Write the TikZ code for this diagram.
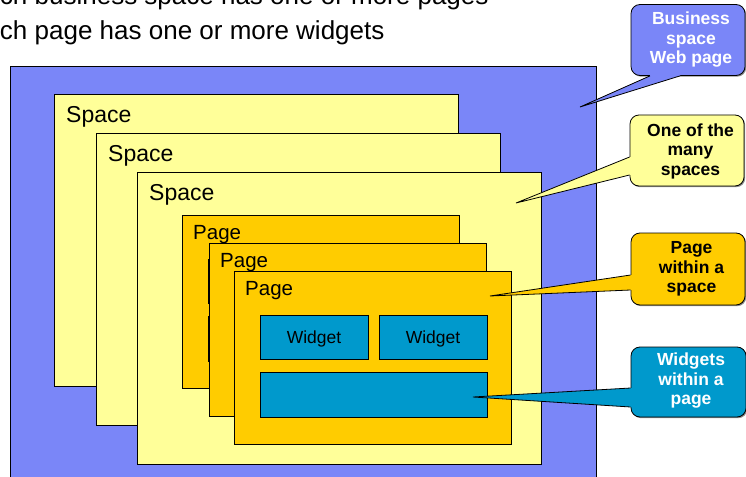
\documentclass[tikz,border=0pt]{standalone}
\usepackage{fontspec}
\setmainfont{Liberation Sans}
\usepackage{xcolor}
\usepackage{tikz}
\usetikzlibrary{calc}
\usetikzlibrary{shadows}
\definecolor{bizblue}{RGB}{122,134,248}
\definecolor{spaceyel}{RGB}{255,255,153}
\definecolor{pagegold}{RGB}{255,204,0}
\definecolor{widgetcol}{RGB}{0,153,204}
\tikzset{
  flatshadow/.style={drop shadow={shadow xshift=1.2pt,shadow yshift=-1.2pt,fill=black,opacity=0.45}},
  box/.style={draw=black,line width=0.8pt,anchor=north west,inner sep=0pt,outer sep=0pt,flatshadow},
  spacebox/.style={box,fill=spaceyel,minimum width=404pt,minimum height=292pt},
  pagebox/.style={box,fill=pagegold,minimum width=277pt,minimum height=173pt},
  widgetbox/.style={box,fill=widgetcol,minimum height=44pt,text depth=0pt,font=\fontsize{17.5}{20}\selectfont},
  boxlabel/.style={anchor=base west,inner sep=0pt},
  callbox/.style={draw=black,line width=0.8pt,rounded corners=9pt,inner sep=0pt,minimum width=114pt,minimum height=71pt,flatshadow},
  calltext/.style={align=center,inner sep=0pt,font=\fontsize{17.5}{19.5}\selectfont\bfseries},
  tail/.style={draw=black,line width=0.8pt}
}

\begin{document}
\begin{tikzpicture}[x=1pt,y=-1pt]
  \useasboundingbox (0,0) rectangle (746,476);
  \clip (0,0) rectangle (746,476);
  % bullet text, cut by the frame
  \node[boxlabel,font=\fontsize{26}{30}\selectfont] (bulletA) at (-32,5) {Each business space has one or more pages};
  \node[boxlabel,font=\fontsize{26}{30}\selectfont] (bulletB) at (-32,40) {Each page has one or more widgets};

  \node[box,fill=bizblue,minimum width=586pt,minimum height=430pt] (bizpage) at (10,66) {};

  \foreach \n/\sx/\sy in {1/54/94,2/96/133,3/137/172}{
    \node[spacebox] (space\n) at (\sx,\sy) {};
    \node[boxlabel,font=\fontsize{23}{27}\selectfont] (spacelbl\n) at ($(space\n.north west)+(12,28)$) {Space};
  }

  \foreach \n/\px/\py in {1/182/215,2/209/243,3/234/271}{
    \node[pagebox] (page\n) at (\px,\py) {};
    \node[boxlabel,font=\fontsize{20.5}{24}\selectfont] (pagelbl\n) at ($(page\n.north west)+(11,24)$) {Page};
    \node[widgetbox,minimum width=108pt] (widgetA\n) at ($(page\n.north west)+(26,44)$) {Widget};
    \node[widgetbox,minimum width=108pt] (widgetB\n) at ($(page\n.north west)+(145,44)$) {Widget};
    \node[widgetbox,minimum width=227pt,minimum height=45pt] (widgetC\n) at ($(page\n.north west)+(26,101)$) {};
  }

  % callouts
  \node[callbox,fill=bizblue] (cbiz) at (688,40) {};
  \coordinate (tipbiz) at (580,107);
  \coordinate (bz1) at ([xshift=-38pt]cbiz.south);
  \coordinate (bz2) at ([xshift=-8pt]cbiz.south);
  \fill[bizblue] ([yshift=2pt]bz1) -- (bz1) -- (tipbiz) -- (bz2) -- ([yshift=2pt]bz2) -- cycle;
  \draw[tail] (bz1) -- (tipbiz) -- (bz2);
  \node[calltext,white] (cbiztxt) at (691,40) {Business\\space\\Web page};

  \node[callbox,fill=spaceyel] (cspc) at (687,150.5) {};
  \coordinate (tipspc) at (516,203);
  \coordinate (sp1) at ([yshift=-6.5pt]cspc.west);
  \coordinate (sp2) at ([yshift=-24.5pt]cspc.west);
  \fill[spaceyel] ([xshift=2pt]sp1) -- (sp1) -- (tipspc) -- (sp2) -- ([xshift=2pt]sp2) -- cycle;
  \draw[tail] (sp1) -- (tipspc) -- (sp2);
  \node[calltext] (cspctxt) at (690.5,151) {One of the\\many\\spaces};

  \node[callbox,fill=pagegold,minimum height=72pt] (cpage) at (688,269) {};
  \coordinate (tippage) at (490,296);
  \coordinate (pg1) at ([yshift=-6pt]cpage.west);
  \coordinate (pg2) at ([yshift=-21pt]cpage.west);
  \fill[pagegold] ([xshift=2pt]pg1) -- (pg1) -- (tippage) -- (pg2) -- ([xshift=2pt]pg2) -- cycle;
  \draw[tail] (pg1) -- (tippage) -- (pg2);
  \node[calltext] (cpagetxt) at (691.5,269) {Page\\within a\\space};

  \node[callbox,fill=widgetcol,minimum width=115pt,minimum height=70pt] (cwid) at (688.5,382) {};
  \coordinate (tipwid) at (473,397);
  \coordinate (wd1) at ([yshift=-6pt]cwid.west);
  \coordinate (wd2) at ([yshift=-25pt]cwid.west);
  \fill[widgetcol] ([xshift=2pt]wd1) -- (wd1) -- (tipwid) -- (wd2) -- ([xshift=2pt]wd2) -- cycle;
  \draw[tail] (wd1) -- (tipwid) -- (wd2);
  \node[calltext,white] (cwidtxt) at (691,381) {Widgets\\within a\\page};
\end{tikzpicture}
\end{document}
